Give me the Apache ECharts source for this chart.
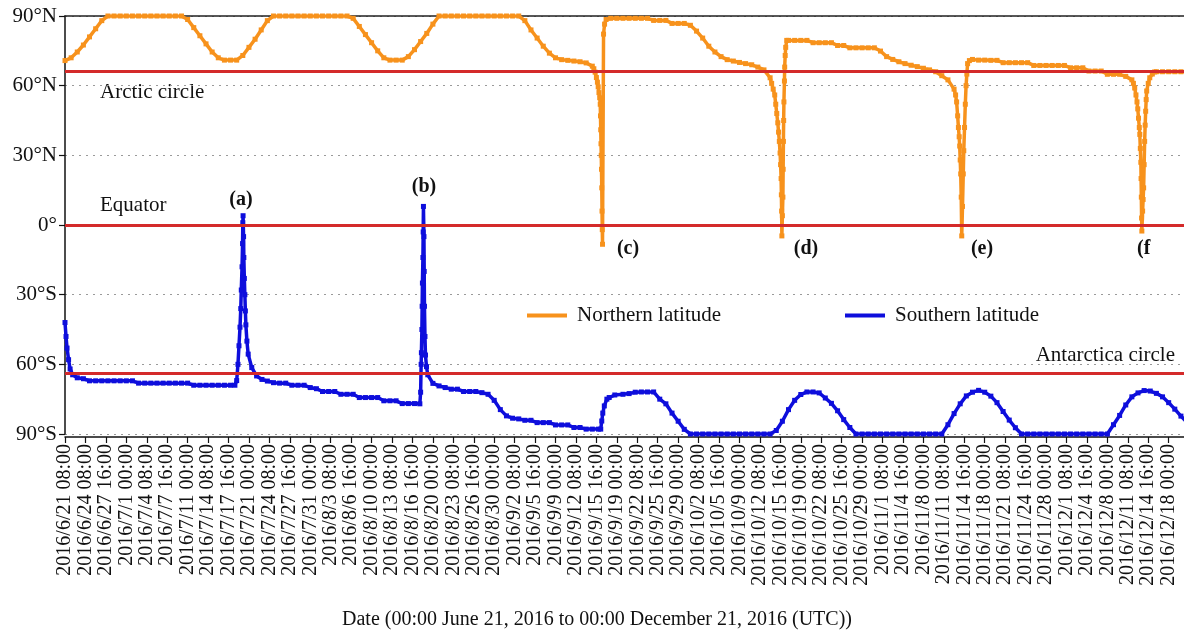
<!DOCTYPE html>
<html>
<head>
<meta charset="utf-8">
<script src="https://cdn.jsdelivr.net/npm/echarts@6/dist/echarts.min.js"></script>
<style>
html,body{margin:0;padding:0;background:#fff;}
#chart{width:1184px;height:633px;}
</style>
</head>
<body>
<div id="chart"></div>
<script>
// x values: hours since 2016/6/21 00:00 (UTC)
const tickLabels = ['2016/6/21 08:00','2016/6/24 08:00','2016/6/27 16:00','2016/7/1 00:00','2016/7/4 08:00','2016/7/7 16:00','2016/7/11 00:00','2016/7/14 08:00','2016/7/17 16:00','2016/7/21 00:00','2016/7/24 08:00','2016/7/27 16:00','2016/7/31 00:00','2016/8/3 08:00','2016/8/6 16:00','2016/8/10 00:00','2016/8/13 08:00','2016/8/16 16:00','2016/8/20 00:00','2016/8/23 08:00','2016/8/26 16:00','2016/8/30 00:00','2016/9/2 08:00','2016/9/5 16:00','2016/9/9 00:00','2016/9/12 08:00','2016/9/15 16:00','2016/9/19 00:00','2016/9/22 08:00','2016/9/25 16:00','2016/9/29 00:00','2016/10/2 08:00','2016/10/5 16:00','2016/10/9 00:00','2016/10/12 08:00','2016/10/15 16:00','2016/10/19 00:00','2016/10/22 08:00','2016/10/25 16:00','2016/10/29 00:00','2016/11/1 08:00','2016/11/4 16:00','2016/11/8 00:00','2016/11/11 08:00','2016/11/14 16:00','2016/11/18 00:00','2016/11/21 08:00','2016/11/24 16:00','2016/11/28 00:00','2016/12/1 08:00','2016/12/4 16:00','2016/12/8 00:00','2016/12/11 08:00','2016/12/14 16:00','2016/12/18 00:00'];
const latTickLabels = ['90°S','60°S','30°S','0°','30°N','60°N','90°N'];
const referenceLatitudes = [66, 0, -64];

const northernLatitude = [[0,70.8],[24,72],[48,74.5],[72,77.5],[96,81],[120,84.5],[144,88],[168,90],[192,90],[216,90],[240,90],[264,90],[288,90],[312,90],[336,90],[360,90],[384,90],[408,90],[432,90],[456,90],[480,88.5],[504,85],[528,81.5],[552,78],[576,74.5],[600,72],[624,71],[648,71],[672,71],[696,73],[720,76.5],[744,80],[768,84],[792,88],[816,90],[840,90],[864,90],[888,90],[912,90],[936,90],[960,90],[984,90],[1008,90],[1032,90],[1056,90],[1080,90],[1104,90],[1128,89],[1152,85.5],[1176,82],[1200,78.5],[1224,75],[1248,72],[1272,71],[1296,71],[1320,71],[1344,72.5],[1368,75.5],[1392,79],[1416,82.5],[1440,86.5],[1464,90],[1488,90],[1512,90],[1536,90],[1560,90],[1584,90],[1608,90],[1632,90],[1656,90],[1680,90],[1704,90],[1728,90],[1752,90],[1776,90],[1800,88],[1824,84],[1848,80.5],[1872,77],[1896,74],[1920,72],[1944,71.2],[1968,70.9],[1992,70.6],[2016,70.3],[2040,69.8],[2064,68.4],[2070,67.3],[2075,65.8],[2080,63.5],[2084,61.5],[2087,59.5],[2090,57],[2093,54.8],[2095,52],[2096,47],[2097,41],[2098,35],[2099,30],[2100,24],[2101,16],[2102,6],[2103,-2],[2104,-8.3],[2108,82.2],[2112,86.5],[2118,88.5],[2136,89],[2160,89],[2184,89],[2208,89],[2232,89],[2256,89],[2280,89],[2304,88.1],[2328,88.1],[2352,88.1],[2376,86.8],[2400,86.8],[2424,86.8],[2448,86],[2472,83.5],[2496,80.5],[2520,77],[2544,74.5],[2568,72.5],[2592,71.2],[2616,70.6],[2640,70],[2664,69.5],[2688,69],[2712,68],[2736,66.8],[2760,63.4],[2766,61],[2772,58.5],[2778,56],[2782,52],[2786,48],[2790,44],[2793,40],[2796,36],[2799,31],[2801,26],[2803,20],[2804,13],[2805,6],[2806,-4.7],[2808,4],[2810,12],[2811,24],[2812,36],[2813,45],[2814,53],[2816,62],[2817,68],[2819,73],[2821,76.5],[2825,79.5],[2832,79.5],[2856,79.5],[2880,79.5],[2904,79.5],[2928,78.5],[2952,78.5],[2976,78.5],[3000,78.5],[3024,77.3],[3048,77.3],[3072,76.3],[3096,76.3],[3120,76.3],[3144,76.3],[3168,76.3],[3192,74.9],[3216,72.5],[3240,71.3],[3264,70.3],[3288,69.5],[3312,68.8],[3336,68.2],[3360,67.5],[3384,66.8],[3408,66],[3432,64.3],[3456,62.5],[3480,58.5],[3486,56],[3490,53],[3494,47],[3497,42],[3500,38],[3502,34],[3504,28],[3506,22],[3508,12],[3510,-4.7],[3513,8],[3516,22],[3518,32],[3521,42],[3524,52],[3527,60],[3530,65],[3533,69.5],[3540,70.8],[3552,71.3],[3576,71],[3600,71],[3624,70.9],[3648,70.9],[3672,69.9],[3696,69.9],[3720,69.9],[3744,69.9],[3768,69.9],[3792,68.7],[3816,68.7],[3840,68.7],[3864,68.7],[3888,68.7],[3912,68.7],[3936,67.7],[3960,67.7],[3984,67.7],[4008,66.3],[4032,66.3],[4056,66.3],[4080,64.9],[4104,64.9],[4128,64.9],[4152,64],[4176,62.5],[4182,61],[4187,59],[4192,56],[4196,53],[4199,50],[4202,46],[4205,42],[4207,39],[4209,33],[4211,27],[4212,20],[4213,12],[4214,3],[4215,-2.6],[4218,6],[4220,11],[4222,16],[4224,26],[4226,36],[4228,43],[4230,49],[4232,54],[4234,57.7],[4240,61],[4246,63.4],[4256,65],[4265,65.9],[4272,66],[4296,66],[4320,66],[4344,66],[4368,66],[4392,66]];

const southernLatitude = [[0,-42],[4,-48],[8,-53],[14,-58],[20,-62],[30,-64.5],[48,-65.8],[72,-66.2],[96,-67.1],[120,-67.1],[144,-67.1],[168,-67.1],[192,-67.1],[216,-67.1],[240,-67.1],[264,-67.1],[288,-68.1],[312,-68.1],[336,-68.1],[360,-68.1],[384,-68.1],[408,-68.1],[432,-68.1],[456,-68.1],[480,-68.1],[504,-69],[528,-69],[552,-69],[576,-69],[600,-69],[624,-69],[648,-69],[665,-69],[672,-67],[677,-60],[681,-52],[685,-44],[688,-36],[690,-28],[693,-18],[695,-8],[696,1],[697,4],[699,-5],[700,-14],[702,-23],[704,-30],[706,-37],[708,-43],[712,-50],[717,-55.6],[731,-61.4],[750,-65],[771,-66.5],[792,-67.2],[816,-67.9],[840,-68.1],[864,-68.1],[888,-69],[912,-69],[936,-69],[960,-70],[984,-70.5],[1008,-71.7],[1032,-71.7],[1056,-71.7],[1080,-72.9],[1104,-72.9],[1128,-72.9],[1152,-74.3],[1176,-74.3],[1200,-74.3],[1224,-74.3],[1248,-75.7],[1272,-75.7],[1296,-75.7],[1320,-76.9],[1344,-76.9],[1368,-76.9],[1389,-77],[1392,-72],[1394,-60],[1395,-55],[1397,-45],[1398,-35],[1399,-25],[1401,-14],[1402,-3],[1403,8],[1405,-5],[1406,-20],[1407,-35],[1409,-48],[1411,-56],[1415,-61],[1420,-64.5],[1440,-68.2],[1464,-69.3],[1488,-70],[1512,-70.7],[1536,-70.7],[1560,-71.7],[1584,-71.7],[1608,-71.7],[1632,-72.2],[1656,-72.9],[1680,-75.5],[1704,-79.5],[1728,-82.2],[1752,-83.2],[1776,-83.5],[1800,-84.1],[1824,-84.1],[1848,-85.1],[1872,-85.1],[1896,-85.1],[1920,-86.1],[1944,-86.1],[1968,-86.1],[1992,-87.2],[2016,-87.2],[2040,-87.9],[2064,-87.9],[2088,-87.9],[2097,-87.9],[2101,-84.4],[2105,-81],[2111,-77.9],[2121,-75],[2130,-74.3],[2152,-73.2],[2184,-72.9],[2208,-72.6],[2232,-72],[2256,-71.9],[2280,-71.9],[2304,-71.9],[2328,-75],[2352,-77],[2376,-81],[2400,-84.5],[2424,-88],[2448,-90],[2472,-90],[2496,-90],[2520,-90],[2544,-90],[2568,-90],[2592,-90],[2616,-90],[2640,-90],[2664,-90],[2688,-90],[2712,-90],[2736,-90],[2760,-90],[2784,-88.5],[2808,-84.5],[2832,-79.5],[2856,-75.5],[2880,-73],[2904,-71.9],[2928,-71.9],[2952,-72.3],[2976,-74.5],[3000,-76.8],[3024,-80],[3048,-83.8],[3072,-87.2],[3096,-90],[3120,-90],[3144,-90],[3168,-90],[3192,-90],[3216,-90],[3240,-90],[3264,-90],[3288,-90],[3312,-90],[3336,-90],[3360,-90],[3384,-90],[3408,-90],[3432,-90],[3456,-86],[3480,-81.2],[3504,-77],[3528,-73.6],[3552,-72],[3576,-71.2],[3600,-72],[3624,-73.7],[3648,-76.5],[3672,-80.3],[3696,-84],[3720,-87.3],[3744,-90],[3768,-90],[3792,-90],[3816,-90],[3840,-90],[3864,-90],[3888,-90],[3912,-90],[3936,-90],[3960,-90],[3984,-90],[4008,-90],[4032,-90],[4056,-90],[4080,-90],[4104,-86],[4128,-82],[4152,-77.5],[4176,-74],[4200,-72.3],[4224,-71.3],[4248,-71.5],[4272,-72.5],[4296,-74],[4320,-76.5],[4344,-79.3],[4368,-82.3],[4392,-85]];

const FONT = "'Liberation Serif', 'Times New Roman', serif";
const ORANGE = '#F7921C';
const BLUE = '#0E0EDC';
const RED = '#D42A2A';

const chart = echarts.init(document.getElementById('chart'), null, {renderer: 'canvas'});

function txt(text, x, y, opts) {
  return {
    type: 'text', x: x, y: y, silent: true,
    style: Object.assign({text: text, font: '21px ' + FONT, fill: '#111', textVerticalAlign: 'middle'}, opts || {})
  };
}

const option = {
  animation: false,
  backgroundColor: '#fff',
  grid: {left: 65, right: 0, top: 16, bottom: 199, containLabel: false},
  legend: [
    {data: ['Northern latitude'], left: 527, top: 305, padding: 0, icon: 'rect', itemWidth: 40, itemHeight: 4,
     textStyle: {fontFamily: FONT, fontSize: 21, color: '#111', padding: [0, 0, 0, 5]}},
    {data: ['Southern latitude'], left: 845, top: 305, padding: 0, icon: 'rect', itemWidth: 40, itemHeight: 4,
     textStyle: {fontFamily: FONT, fontSize: 21, color: '#111', padding: [0, 0, 0, 5]}}
  ],
  xAxis: [{
    type: 'value', min: 0, max: 4380, interval: 80, offset: 3,
    axisLine: {show: true, onZero: false, lineStyle: {color: '#111', width: 1.5}},
    axisTick: {show: true, length: 6, lineStyle: {color: '#111', width: 1.2}},
    axisLabel: {
      rotate: 90, fontFamily: FONT, fontSize: 20, color: '#111', margin: 7,
      showMinLabel: true, showMaxLabel: false, hideOverlap: false,
      formatter: function (v) { if (v % 80 !== 0) return ''; return tickLabels[Math.round(v / 80)] || ''; }
    },
    splitLine: {show: false}
  }, {
    type: 'value', min: 0, max: 4380, position: 'top',
    axisLine: {show: true, onZero: false, lineStyle: {color: '#222', width: 1.5}},
    axisTick: {show: false}, axisLabel: {show: false}, splitLine: {show: false}
  }],
  yAxis: {
    type: 'value', min: -90, max: 90, interval: 30,
    axisLine: {show: true, onZero: false, lineStyle: {color: '#111', width: 1.5}},
    axisTick: {show: true, length: 6, lineStyle: {color: '#111', width: 1.2}},
    axisLabel: {
      fontFamily: FONT, fontSize: 21, color: '#111', margin: 8,
      formatter: function (v) { return latTickLabels[Math.round((v + 90) / 30)]; }
    },
    splitLine: {show: true, lineStyle: {color: '#9a9a9a', width: 1, type: [2, 5]}}
  },
  series: [{
    name: 'Northern latitude', type: 'line', xAxisIndex: 0,
    data: northernLatitude,
    color: ORANGE,
    symbol: 'rect', symbolSize: 5, showSymbol: true,
    lineStyle: {color: ORANGE, width: 3.5},
    itemStyle: {color: ORANGE},
    z: 3,
    markLine: {
      silent: true, symbol: ['none', 'none'], animation: false,
      label: {show: false},
      lineStyle: {color: RED, width: 3, type: 'solid'},
      emphasis: {disabled: true},
      data: referenceLatitudes.map(function (v) { return {yAxis: v}; })
    }
  }, {
    name: 'Southern latitude', type: 'line', xAxisIndex: 0,
    data: southernLatitude,
    color: BLUE,
    symbol: 'rect', symbolSize: 5, showSymbol: true,
    lineStyle: {color: BLUE, width: 3.5},
    itemStyle: {color: BLUE},
    z: 4
  }],
  graphic: [
    txt('Arctic circle', 100, 92),
    txt('Equator', 100, 205),
    txt('Antarctica circle', 1175, 355, {textAlign: 'right'}),
    txt('(a)', 241, 200, {textAlign: 'center', font: 'bold 20px ' + FONT}),
    txt('(b)', 424, 187, {textAlign: 'center', font: 'bold 20px ' + FONT}),
    txt('(c)', 628, 249, {textAlign: 'center', font: 'bold 20px ' + FONT}),
    txt('(d)', 806, 249, {textAlign: 'center', font: 'bold 20px ' + FONT}),
    txt('(e)', 982, 249, {textAlign: 'center', font: 'bold 20px ' + FONT}),
    txt('(f', 1137, 249, {font: 'bold 20px ' + FONT}),
    txt('Date (00:00 June 21, 2016 to 00:00 December 21, 2016 (UTC))', 597, 620, {textAlign: 'center', font: '20px ' + FONT})
  ]
};
chart.setOption(option);
</script>
</body>
</html>
